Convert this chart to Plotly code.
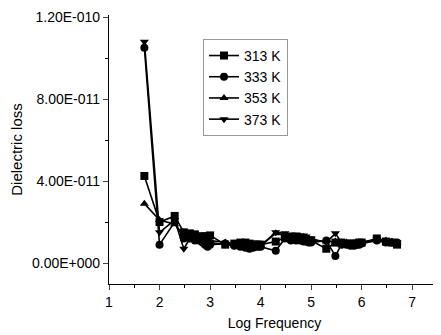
import plotly.graph_objects as go

log_freq = [1.7, 2.0, 2.3, 2.48, 2.6, 2.7, 2.78, 2.85, 2.9, 2.95, 3.0,
            3.3, 3.48, 3.6, 3.7, 3.78, 3.85, 3.9, 3.95, 4.0,
            4.3, 4.48, 4.6, 4.7, 4.78, 4.85, 4.9, 4.95, 5.0,
            5.3, 5.48, 5.6, 5.7, 5.78, 5.85, 5.9, 5.95, 6.0,
            6.3, 6.48, 6.6, 6.7]

loss_313 = [4.25, 2.0, 2.3, 1.5, 1.45, 1.4, 1.3, 1.3, 1.3, 1.3, 1.35,
            0.9, 0.95, 1.0, 1.0, 0.95, 0.9, 0.9, 0.9, 0.9,
            1.05, 1.25, 1.2, 1.2, 1.15, 1.15, 1.1, 1.1, 1.1,
            0.7, 1.0, 1.0, 0.95, 0.95, 0.95, 0.95, 1.0, 1.0,
            1.2, 1.05, 1.0, 0.9]
loss_333 = [10.5, 0.9, 2.0, 1.2, 1.2, 1.1, 1.1, 1.0, 0.9, 0.8, 0.9,
            0.95, 0.85, 0.8, 0.75, 0.7, 0.75, 0.8, 0.8, 0.8,
            0.6, 1.2, 1.1, 1.1, 1.1, 1.05, 1.05, 1.0, 1.0,
            1.1, 0.35, 0.9, 0.9, 0.85, 0.85, 0.9, 0.9, 0.95,
            1.1, 1.0, 1.0, 1.0]
loss_353 = [2.9, 2.1, 1.9, 1.3, 1.3, 1.2, 1.2, 1.15, 1.1, 1.1, 1.1,
            1.0, 0.95, 0.95, 0.9, 0.9, 0.9, 0.85, 0.85, 0.85,
            1.45, 1.35, 1.3, 1.3, 1.3, 1.25, 1.2, 1.15, 1.1,
            1.05, 1.05, 1.0, 1.0, 0.95, 0.95, 1.0, 1.0, 1.0,
            1.15, 1.1, 1.05, 1.0]
loss_373 = [10.8, 1.5, 2.1, 0.7, 1.2, 1.2, 1.1, 1.1, 1.0, 1.0, 1.0,
            0.9, 0.85, 0.85, 0.85, 0.8, 0.8, 0.85, 0.85, 0.85,
            1.5, 1.45, 1.4, 1.4, 1.35, 1.35, 1.3, 1.2, 1.2,
            1.0, 1.45, 1.0, 0.95, 0.95, 0.95, 1.0, 1.0, 1.0,
            1.15, 1.1, 1.05, 1.0]
scale = 1e-11

series_names = ["313 K", "333 K", "353 K", "373 K"]
series_vals = [loss_313, loss_333, loss_353, loss_373]
symbols = ["square", "circle", "triangle-up", "triangle-down"]

y_tickvals = [0, 4e-11, 8e-11, 1.2e-10]
y_ticktext = ["0.00E+000", "4.00E-011", "8.00E-011", "1.20E-010"]
x_tickvals = [1, 2, 3, 4, 5, 6, 7]

fig = go.Figure()
for name, vals, sym in zip(series_names, series_vals, symbols):
    fig.add_trace(go.Scatter(
        x=log_freq, y=[v * scale for v in vals], name=name, mode="lines+markers",
        line=dict(color="black", width=1.6),
        marker=dict(symbol=sym, size=8, color="black"),
    ))

font = "Liberation Sans, Arial, sans-serif"
fig.update_layout(
    width=433, height=327,
    margin=dict(l=101, r=1, t=7, b=51, autoexpand=False),
    plot_bgcolor="white", paper_bgcolor="white",
    font=dict(family=font, size=14, color="black"),
    showlegend=True,
    legend=dict(x=0.284, y=0.911, xanchor="left", yanchor="top",
                bordercolor="#999", borderwidth=1, bgcolor="white",
                font=dict(size=14), itemwidth=30, tracegroupgap=0),
    xaxis=dict(range=[1, 7.55], tickvals=x_tickvals, ticks="outside", ticklen=5,
               tickwidth=1.2, showline=True, linecolor="black", linewidth=1.2,
               showgrid=False, zeroline=False, tickfont=dict(size=14),
               minor=dict(tickvals=[1.5, 2.5, 3.5, 4.5, 5.5, 6.5, 7.5], ticks="outside",
                          ticklen=3, tickcolor="black"),
               title=dict(text="Log Frequency", standoff=9, font=dict(size=14))),
    yaxis=dict(range=[-1.02e-11, 1.21e-10], tickvals=y_tickvals, ticktext=y_ticktext,
               ticks="outside", ticklen=5, tickwidth=1.2, showline=True,
               linecolor="black", linewidth=1.2, showgrid=False, zeroline=False,
               tickfont=dict(size=14),
               minor=dict(tickvals=[2e-11, 6e-11, 1e-10], ticks="outside",
                          ticklen=3, tickcolor="black"),
               title=dict(text="Dielectric loss", standoff=8, font=dict(size=15))),
)

fig.write_html("out.html")
